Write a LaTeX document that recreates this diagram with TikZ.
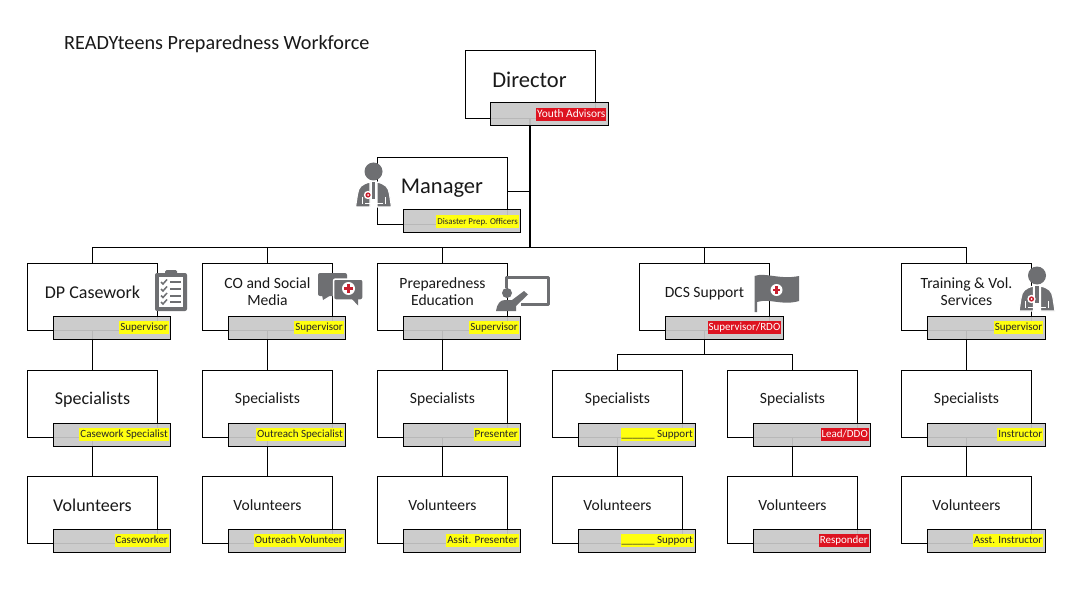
\documentclass[tikz,border=0pt]{standalone}
\usepackage{fontspec}
\setmainfont{Carlito}
\definecolor{barfill}{HTML}{C8C8C8}
\definecolor{tagred}{HTML}{DD1320}
\definecolor{tagyellow}{HTML}{FFFF10}
\definecolor{icongray}{HTML}{6E6F72}
\definecolor{crossred}{HTML}{C8202F}
\tikzset{
  x=1pt,y=-1pt,
  orgbox/.style={draw=black,line width=1pt,fill=white,anchor=north west,minimum width=130pt,minimum height=67.5pt,inner sep=0pt,outer sep=0pt},
  boxtext/.style={align=center,inner sep=0pt,text=black!90},
  orgbar/.style={draw=black,line width=1pt,fill=barfill,fill opacity=0.92,anchor=north west,minimum width=117.5pt,minimum height=23pt,inner sep=0pt,outer sep=0pt},
  tagbase/.style={anchor=east,font=\fontsize{11}{12}\selectfont,inner xsep=1pt,inner ysep=0pt,text height=9pt,text depth=3.5pt,xshift=-1.5pt,yshift=0.2pt},
  yellowtag/.style={tagbase,fill=tagyellow,text=black!85},
  redtag/.style={tagbase,fill=tagred,text=white},
  wire/.style={draw=black,line width=1pt},
  trunk/.style={draw=black,line width=1.6pt},
}
% ---- icons ----
\newcommand{\redcross}[3]{% x y r
  \fill[white] (#1,#2) circle (#3);
  \fill[crossred] (#1-#3*0.62,#2-#3*0.2) rectangle (#1+#3*0.62,#2+#3*0.2);
  \fill[crossred] (#1-#3*0.2,#2-#3*0.62) rectangle (#1+#3*0.2,#2+#3*0.62);
}
\newcommand{\personicon}[2]{%
  \begin{scope}[shift={(#1,#2)}]
    \fill[icongray] (0,-15.5) circle (9);
    \draw[white,line width=1.2pt,fill=icongray] (-18,20) -- (-16,7) .. controls (-15,0) and (-12,-3) .. (-3.5,-5) -- (-3.5,20) -- cycle;
    \draw[white,line width=1.2pt,fill=icongray] (18,20) -- (16,7) .. controls (15,0) and (12,-3) .. (3.5,-5) -- (3.5,20) -- cycle;
    \fill[icongray] (-1.6,-5) rectangle (1.6,12);
    \fill[white] (-12,10) -- (-12,17) -- (-11,17) -- (-11,10) -- cycle;
    \fill[white] (11,10) -- (11,17) -- (12,17) -- (12,10) -- cycle;
    \fill[white] (-9,16) rectangle (-3,17);
    \fill[white] (3,16) rectangle (9,17);
    \fill[white] (-5.5,8) circle (4.2);
    \fill[crossred] (-5.5,8) circle (2.6);
    \fill[white] (-5.5,8) circle (1);
  \end{scope}
}
\begin{document}
\begin{tikzpicture}[x=1pt,y=-1pt]
\useasboundingbox (0,0) rectangle (1071,604);
\fill[white] (0,0) rectangle (1071,604);
\node[anchor=west,inner sep=0pt,font=\fontsize{20.2}{22}\selectfont,text=black!90] (title) at (64,44.5) {READYteens Preparedness Workforce};
% ---- boxes ----
\node[orgbox] (dir) at (465,51) {};
\node[orgbox] (mgr) at (377,157.5) {};
\node[orgbox] (cw) at (27,263) {};
\node[orgbox] (co) at (202,263) {};
\node[orgbox] (pe) at (377,263) {};
\node[orgbox] (dcs) at (639.5,263) {};
\node[orgbox] (tv) at (901.5,263) {};
\node[orgbox] (s1) at (27,370) {};
\node[orgbox] (s2) at (202,370) {};
\node[orgbox] (s3) at (377,370) {};
\node[orgbox] (s4) at (552,370) {};
\node[orgbox] (s5) at (727,370) {};
\node[orgbox] (s6) at (901.5,370) {};
\node[orgbox] (v1) at (27,476) {};
\node[orgbox] (v2) at (202,476) {};
\node[orgbox] (v3) at (377,476) {};
\node[orgbox] (v4) at (552,476) {};
\node[orgbox] (v5) at (727,476) {};
\node[orgbox] (v6) at (901.5,476) {};
% ---- connectors ----
\coordinate (busw) at (92,248);
\coordinate (buse) at (966.5,248);
\draw[wire] (busw) -- (buse);
\draw[trunk] (dir.south) -- (dir.south |- busw);
\draw[wire] (mgr.east) -- (mgr.east -| dir.south);
\foreach \n in {cw,co,pe,dcs,tv} \draw[wire] (\n.north) -- (\n.north |- busw);
\foreach \a/\b in {cw/s1,co/s2,pe/s3,tv/s6,s1/v1,s2/v2,s3/v3,s4/v4,s5/v5,s6/v6} \draw[wire] (\a.south) -- (\b.north);
\coordinate (subbus) at (704.5,354);
\draw[wire] (dcs.south) -- (subbus);
\draw[wire] (s4.north) -- (s4.north |- subbus) -- (s5.north |- subbus) -- (s5.north);
% ---- bars ----
\foreach \n/\x/\y in {bcw/53/316,bco/228/316,bpe/403/316,bdcs/665.5/316,btv/927.5/316,
  bs1/53/423,bs2/228/423,bs3/403/423,bs4/578/423,bs5/753/423,bs6/927.5/423,
  bv1/53/529,bv2/228/529,bv3/403/529,bv4/578/529,bv5/753/529,bv6/927.5/529,
  bdir/490.5/103,bmgr/403/210}
  \node[orgbar] (\n) at (\x,\y) {};
% ---- box titles ----
\node[boxtext,font=\fontsize{22.5}{25}\selectfont] (tdir) at (529.5,80) {Director};
\node[boxtext,font=\fontsize{22.5}{25}\selectfont] (tmgr) at (442,188) {Manager};
\node[boxtext,font=\fontsize{18}{20}\selectfont] (tcw) at (92.5,292.5) {DP Casework};
\node[boxtext,font=\fontsize{15.6}{17}\selectfont] (tco) at (267.5,292) {CO and Social\\Media};
\node[boxtext,font=\fontsize{15.6}{17}\selectfont] (tpe) at (442.5,292) {Preparedness\\Education};
\node[boxtext,font=\fontsize{15.6}{17}\selectfont] (tdcs) at (704.5,293.5) {DCS Support};
\node[boxtext,font=\fontsize{15.6}{17}\selectfont] (ttv) at (966.5,292) {Training \& Vol.\\Services};
\node[boxtext,font=\fontsize{18}{20}\selectfont] (ts1) at (92.5,399.5) {Specialists};
\foreach \n/\x in {ts2/267.5,ts3/442.5,ts4/617.5,ts5/792.5,ts6/966.5}
  \node[boxtext,font=\fontsize{15.6}{17}\selectfont] (\n) at (\x,399) {Specialists};
\node[boxtext,font=\fontsize{18}{20}\selectfont] (tv1) at (92.5,505.5) {Volunteers};
\foreach \n/\x in {tv2/267.5,tv3/442.5,tv4/617.5,tv5/792.5,tv6/966.5}
  \node[boxtext,font=\fontsize{15.6}{17}\selectfont] (\n) at (\x,505.5) {Volunteers};
% ---- tags ----
\node[redtag,font=\fontsize{11.4}{12}\selectfont] (ldir) at (bdir.east) {Youth Advisors};
\node[yellowtag,font=\fontsize{8.9}{10}\selectfont] (lmgr) at (bmgr.east) {Disaster Prep. Officers};
\node[yellowtag] (lcw) at (bcw.east) {Supervisor};
\node[yellowtag] (lco) at (bco.east) {Supervisor};
\node[yellowtag] (lpe) at (bpe.east) {Supervisor};
\node[redtag] (ldcs) at (bdcs.east) {Supervisor/RDO};
\node[yellowtag] (ltv) at (btv.east) {Supervisor};
\node[yellowtag] (ls1) at (bs1.east) {Casework Specialist};
\node[yellowtag] (ls2) at (bs2.east) {Outreach Specialist};
\node[yellowtag] (ls3) at (bs3.east) {Presenter};
\node[yellowtag] (ls4) at (bs4.east) {\_\_\_\_\_\_ Support};
\node[redtag] (ls5) at (bs5.east) {Lead/DDO};
\node[yellowtag] (ls6) at (bs6.east) {Instructor};
\node[yellowtag] (lv1) at (bv1.east) {Caseworker};
\node[yellowtag] (lv2) at (bv2.east) {Outreach Volunteer};
\node[yellowtag] (lv3) at (bv3.east) {Assit. Presenter};
\node[yellowtag] (lv4) at (bv4.east) {\_\_\_\_\_\_ Support};
\node[redtag] (lv5) at (bv5.east) {Responder};
\node[yellowtag] (lv6) at (bv6.east) {Asst. Instructor};
% ---- icons ----
\personicon{373.5}{187}
\personicon{1037}{291}
% clipboard
\fill[icongray,rounded corners=2pt] (155,273) rectangle (187,311);
\fill[icongray,rounded corners=1.5pt] (165,270) rectangle (177,277);
\fill[white] (159,277) rectangle (183,306.5);
\foreach \yy in {282,289,295.5,302}{
  \draw[icongray,line width=1.5pt] (161,\yy) -- (163,\yy+2) -- (167,\yy-2.5);
  \fill[icongray] (169.5,\yy-1) rectangle (181,\yy+1);
}
% speech bubbles
\fill[icongray,rounded corners=2pt] (318,273) rectangle (347,296);
\fill[icongray] (322,295) -- (323,300) -- (331,295) -- cycle;
\draw[white,line width=1.5pt,fill=icongray,rounded corners=2pt] (333.5,279) rectangle (363,300);
\fill[icongray] (352,299) -- (358,305.5) -- (358,299) -- cycle;
\redcross{348.5}{288.5}{6.5}
% teacher
\draw[icongray,line width=3pt,line join=round] (506,288) -- (506,277) -- (548.5,277) -- (548.5,304.5) -- (521,304.5);
\fill[white] (496,298) rectangle (506,300);
\fill[icongray] (507,293) circle (5);
\fill[icongray] (496,311) .. controls (497,304) and (500,300) .. (505,300) -- (512,300) -- (524,291) -- (528,294.5) -- (516,306) -- (516,311) -- cycle;
% flag
\fill[icongray] (754.5,312) -- (754.5,276) .. controls (765,272) and (780,280) .. (799,276) -- (799,301) .. controls (782,306) and (770,298) .. (757,302) -- (757,312) -- cycle;
\redcross{776.5}{290}{6}
\end{tikzpicture}
\end{document}
